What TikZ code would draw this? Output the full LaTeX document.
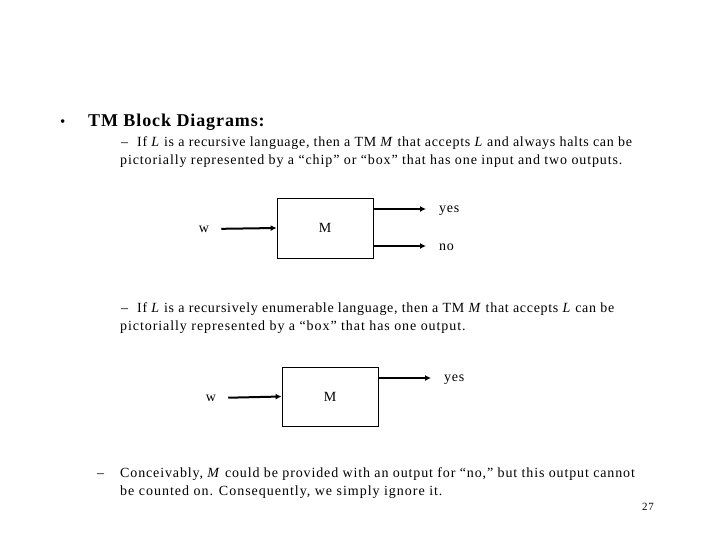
\documentclass[tikz,border=0pt]{standalone}
\usepackage{fontspec}
\setmainfont{Liberation Serif}[LetterSpace=5]
\usetikzlibrary{arrows.meta}
\newcommand{\lsp}[1]{\fontsize{14bp}{17bp}\selectfont\addfontfeatures{LetterSpace=#1}}
\begin{document}
\begin{tikzpicture}[x=1bp,y=-1bp,
  txt/.style={anchor=base west,inner sep=0pt,font=\fontsize{14bp}{17bp}\selectfont},
  lbl/.style={inner sep=0pt,font=\fontsize{14bp}{17bp}\selectfont},
  blk/.style={draw,line width=0.8bp,minimum width=96bp,minimum height=60bp,inner sep=0pt,font=\fontsize{14bp}{17bp}\selectfont},
  arr/.style={line width=2bp,-{Latex[length=6bp,width=6bp]}}]
\useasboundingbox (0,0) rectangle (720,540);
% heading
\node[txt,font=\fontsize{15bp}{18bp}\selectfont] (bul) at (60,127) {•};
\node[txt,font=\bfseries\fontsize{18bp}{21bp}\selectfont] (head) at (88,127) {TM Block Diagrams:};
% first item
\node[txt] (d1) at (121,147) {–};
\node[txt] (t1) at (137,147) {If \textit{L} is a recursive language, then a TM \textit{M} that accepts \textit{L} and always halts can be};
\node[txt,font=\lsp{6.3}] (t1b) at (120,165) {pictorially represented by a “chip” or “box” that has one input and two outputs.};
% diagram 1
\node[blk] (b1) at (325,228) {M};
\node[lbl] (w1) at (204,229) {w};
\coordinate (o1) at (426,209);
\coordinate (o2) at (426,246);
\node[lbl,anchor=west] (y1) at (439,211) {yes};
\node[lbl,anchor=west] (n1) at (439,247) {no};
\draw[arr,shorten <=12bp] (w1.east) -- (b1.west);
\draw[arr] (b1.east |- o1) -- (o1);
\draw[arr] (b1.east |- o2) -- (o2);
% second item
\node[txt] (d2) at (121,312) {–};
\node[txt] (t2) at (137,312) {If \textit{L} is a recursively enumerable language, then a TM \textit{M} that accepts \textit{L} can be};
\node[txt,font=\lsp{6.6}] (t2b) at (120,330) {pictorially represented by a “box” that has one output.};
% diagram 2
\node[blk,minimum height=59bp] (b2) at (330,396.5) {M};
\node[lbl] (w2) at (211,398) {w};
\coordinate (o3) at (431,378);
\node[lbl,anchor=west] (y2) at (444,380) {yes};
\draw[arr,shorten <=12bp] (w2.east) -- (b2.west);
\draw[arr] (b2.east |- o3) -- (o3);
% third item
\node[txt] (d3) at (97,477) {–};
\node[txt,font=\lsp{6.2}] (t3) at (120,477) {Conceivably, \textit{M} could be provided with an output for “no,” but this output cannot};
\node[txt,font=\lsp{7}] (t3b) at (120,495) {be counted on. Consequently, we simply ignore it.};
\node[txt,font=\fontsize{11bp}{13bp}\selectfont] (pg) at (642,510) {27};
\end{tikzpicture}
\end{document}
